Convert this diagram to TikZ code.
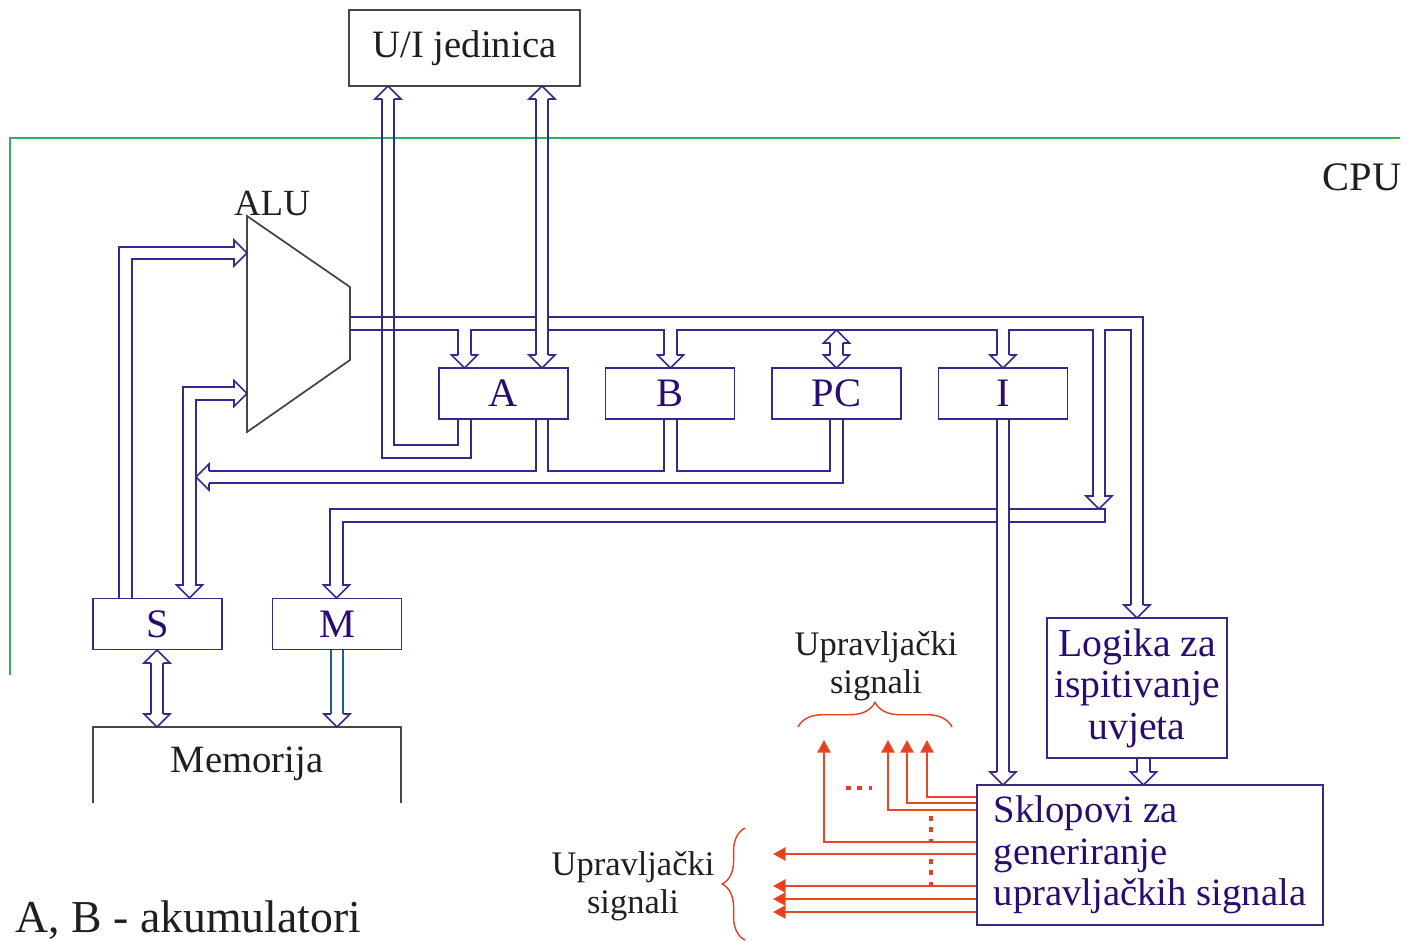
\documentclass[tikz,border=0pt]{standalone}
\usepackage{fontspec}
\setmainfont{Liberation Serif}
\usetikzlibrary{arrows.meta,decorations.pathreplacing}
\definecolor{busc}{RGB}{58,38,140}
\definecolor{txtc}{RGB}{40,12,112}
\definecolor{sigc}{RGB}{228,62,36}
\definecolor{cpuc}{RGB}{50,175,95}
\definecolor{memc}{RGB}{30,90,160}
\definecolor{grayc}{RGB}{70,70,70}

\newcommand\headdn[2]{\draw[bus] ({#1-6.25},{#2-13}) -- ({#1-13},{#2-13}) -- (#1,#2) -- ({#1+13},{#2-13}) -- ({#1+6.25},{#2-13});}
\newcommand\headup[2]{\draw[bus] ({#1-6.25},{#2+13}) -- ({#1-13},{#2+13}) -- (#1,#2) -- ({#1+13},{#2+13}) -- ({#1+6.25},{#2+13});}
\newcommand\headlt[2]{\draw[bus] ({#1+13},{#2-6.25}) -- ({#1+13},{#2-13}) -- (#1,#2) -- ({#1+13},{#2+13}) -- ({#1+13},{#2+6.25});}
\newcommand\headrt[2]{\draw[bus] ({#1-13},{#2-6.25}) -- ({#1-13},{#2-13}) -- (#1,#2) -- ({#1-13},{#2+13}) -- ({#1-13},{#2+6.25});}

\begin{document}
\begin{tikzpicture}[x=0.01cm,y=-0.01cm,line join=miter,
  bus/.style={draw=busc,line width=0.45pt},
  mbus/.style={draw=memc,line width=0.45pt},
  reg/.style={draw=busc,line width=0.5pt,text=txtc,inner sep=0pt,minimum width=1.29cm,minimum height=0.51cm,font=\fontsize{11.5}{12}\selectfont},
  bigbox/.style={draw=busc,line width=0.5pt,text=txtc,inner sep=0pt,font=\fontsize{11.3}{11.8}\selectfont},
  lbl/.style={inner sep=0pt,text=black!88,font=\fontsize{11.5}{12}\selectfont},
  sigtxt/.style={inner sep=0pt,align=center,text=black!88,font=\fontsize{9.8}{10.8}\selectfont},
  sig/.style={draw=sigc!85!orange,line width=0.45pt,-{Triangle[width=3.8pt,length=3.6pt,fill=sigc]}},
  dots/.style={draw=sigc,line width=1.4pt,dash pattern=on 1.4pt off 1.8pt},
  bracec/.style={draw=sigc,line width=0.4pt,decorate}]
  \useasboundingbox (0,0) rectangle (1408,941);

  \draw[cpuc,line width=0.5pt] (10,675) -- (10,138) -- (1400,138);
  \node[lbl,anchor=base] (cpu) at (1362,190) {CPU};

  \node[draw=grayc,line width=0.5pt,minimum width=2.31cm,minimum height=0.76cm,lbl,font=\fontsize{11}{12}\selectfont] (uio) at (464.5,48) {U/I jedinica};

  \draw[draw=grayc,line width=0.5pt] (247,216) -- (350,287) -- (350,360) -- (247,432) -- cycle;
  \node[lbl,anchor=base,font=\fontsize{10.5}{12}\selectfont] (alu) at (272,215) {ALU};

  \foreach \n/\t/\x in {regA/A/503.5,regB/B/670,regPC/PC/836.5,regI/I/1003}
    \node[reg] (\n) at (\x,393.5) {\t};
  \node[reg] (regS) at (157.5,624) {S};
  \node[reg] (regM) at (337,624) {M};

  \draw[draw=grayc,line width=0.5pt] (93,803) -- (93,727) -- (401,727) -- (401,803);
  \node[lbl,anchor=base,font=\fontsize{11}{12}\selectfont] (mem) at (247,772) {Memorija};

  \node[bigbox,align=center,minimum width=1.80cm,minimum height=1.40cm] (logika) at (1137,688) {Logika za\\ispitivanje\\uvjeta};
  \node[bigbox,align=left,minimum width=3.46cm,minimum height=1.40cm,font=\fontsize{11}{11.8}\selectfont] (sklop) at (1150,855) {Sklopovi za\\generiranje\\upravljačkih signala};

  % ALU output bus
  \draw[bus] (350,317) -- (536,317) (548,317) -- (1143,317) -- (1143,605);
  \draw[bus] (350,330) -- (458,330) -- (458,355);
  \draw[bus] (471,355) -- (471,330) -- (536,330);
  \draw[bus] (548,330) -- (664,330) -- (664,355);
  \draw[bus] (677,355) -- (677,330) -- (997,330) -- (997,355);
  \draw[bus] (1009,355) -- (1009,330) -- (1093,330) -- (1093,497);
  \draw[bus] (1105,497) -- (1105,330) -- (1131,330) -- (1131,605);
  \draw[bus] (830.25,343) -- (830.25,355) (842.75,343) -- (842.75,355);
  \headdn{464.5}{368}
  \headdn{542}{368}
  \headdn{670.5}{368}
  \headup{836.5}{330}
  \headdn{836.5}{368}
  \headdn{1003}{368}
  \headdn{1099}{509}
  \headdn{1137}{618}

  % U/I
  \headup{388}{86}
  \headup{542}{86}
  \draw[bus] (382,99) -- (382,458) -- (471,458) -- (471,419);
  \draw[bus] (394,99) -- (394,445) -- (458,445) -- (458,419);
  \draw[bus] (536,99) -- (536,355) (548,99) -- (548,355);

  % registers to the left
  \draw[bus] (209,471) -- (536,471) -- (536,419);
  \draw[bus] (548,419) -- (548,471) -- (664,471) -- (664,419);
  \draw[bus] (677,419) -- (677,471) -- (830,471) -- (830,419);
  \draw[bus] (843,419) -- (843,483) -- (209,483);
  \headlt{196}{477}

  % ALU inputs and S
  \draw[bus] (235,247) -- (119,247) -- (119,598);
  \draw[bus] (235,259) -- (132,259) -- (132,598);
  \headrt{247}{253}
  \draw[bus] (235,387) -- (183,387) -- (183,586);
  \draw[bus] (235,400) -- (196,400) -- (196,586);
  \headrt{247}{393.5}
  \headdn{189.5}{598}

  % address bus
  \draw[bus] (330,586) -- (330,509) -- (997,509);
  \draw[bus] (343,586) -- (343,522) -- (997,522);
  \draw[bus] (1009,509) -- (1105,509) -- (1105,522) -- (1009,522);
  \headdn{336.5}{598}

  \draw[bus] (997,419) -- (997,772) (1009,419) -- (1009,772);
  \headdn{1003}{785}
  \draw[bus] (1137,758) -- (1137,772) (1150,758) -- (1150,772);
  \headdn{1143.5}{785}

  \headup{157}{650}
  \headdn{157}{727}
  \draw[bus] (150.75,663) -- (150.75,714) (163.25,663) -- (163.25,714);
  \draw[mbus] (330.75,650) -- (330.75,714) (343.25,650) -- (343.25,714);
  \headdn{337}{727}

  % control signals
  \foreach \y/\x in {797/927,803/907,810/888,842/824}
    \draw[sig] (sklop.west |- 0,\y) -| (\x,740);
  \foreach \y in {854,886,899,912}
    \draw[sig] (sklop.west |- 0,\y) -- (773,\y);
  \draw[dots] (846,788) -- (872,788);
  \draw[dots] (931,816) -- (931,842);
  \draw[dots] (931,859) -- (931,885);
  \draw[bracec,decoration={brace,amplitude=7pt}] (798,727) -- (952,727);
  \draw[bracec,decoration={brace,amplitude=6.5pt}] (745,940) -- (745,828);
  \node[sigtxt] (sigtop) at (876,666) {Upravljački\\signali};
  \node[sigtxt] (sigleft) at (633,886) {Upravljački\\signali};

  \node[lbl,anchor=base west,font=\fontsize{13}{16}\selectfont] (note) at (15,932) {A, B - akumulatori};
\end{tikzpicture}
\end{document}
